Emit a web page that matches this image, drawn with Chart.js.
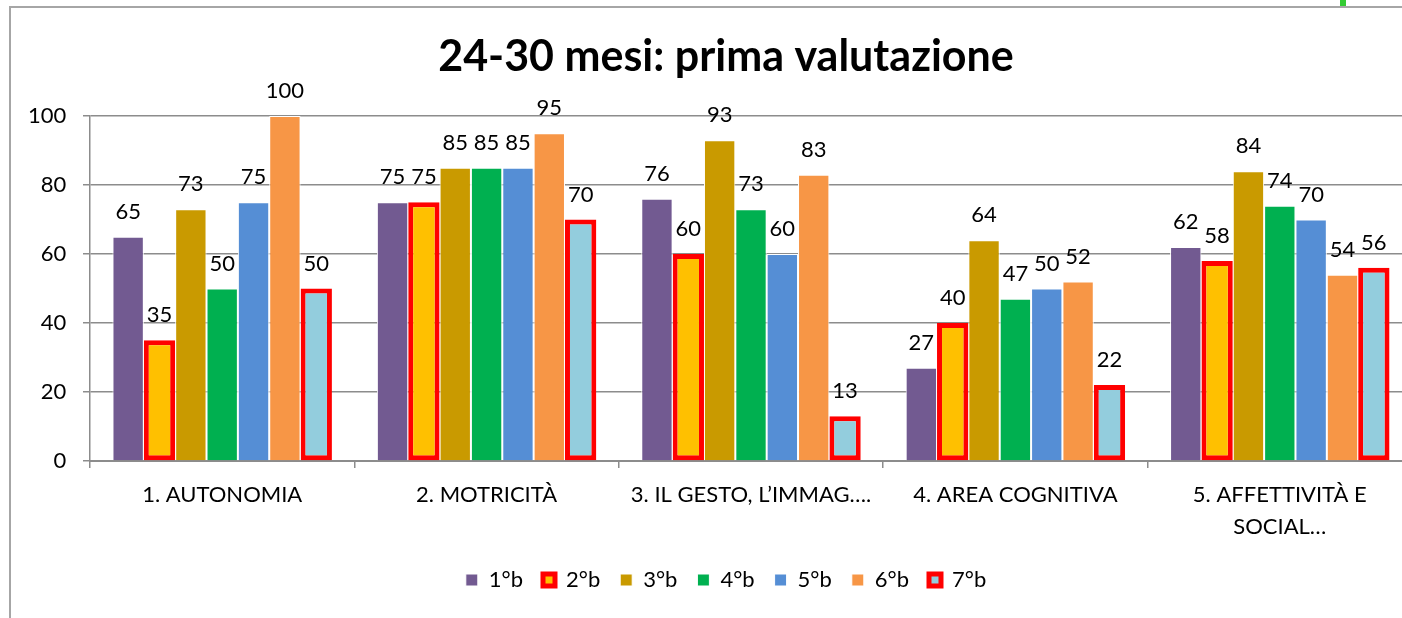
<!DOCTYPE html>
<html>
<head>
<meta charset="utf-8">
<script src="https://cdn.jsdelivr.net/npm/chart.js@4.4.0/dist/chart.umd.min.js"></script>
<style>
  html, body { margin: 0; padding: 0; background: #fff; }
  #wrap { position: relative; width: 1402px; height: 618px; overflow: hidden; }
  #cornice { position: absolute; left: 9px; top: 6px; width: 1500px; height: 700px;
             border-left: 2px solid #a6a6a6; border-top: 2px solid #a6a6a6; }
  #verde { position: absolute; left: 1340px; top: 0; width: 6px; height: 6px; background: #33cc33; }
  #box { position: absolute; left: 0; top: 0; width: 1412px; height: 618px; }
</style>
</head>
<body>
<div id="wrap">
  <div id="cornice"></div>
  <div id="verde"></div>
  <div id="box"><canvas id="grafico" width="1412" height="618"></canvas></div>
</div>
<script>
/* ===== DATI ===== */
const categorie = [
  '1. AUTONOMIA',
  '2. MOTRICITÀ',
  '3. IL GESTO, L’IMMAG….',
  '4. AREA COGNITIVA',
  ['5. AFFETTIVITÀ E', 'SOCIAL…']
];
const classi = ['1°b', '2°b', '3°b', '4°b', '5°b', '6°b', '7°b'];

const valori_1b = [65, 75, 76, 27, 62];
const valori_2b = [35, 75, 60, 40, 58];
const valori_3b = [73, 85, 93, 64, 84];
const valori_4b = [50, 85, 73, 47, 74];
const valori_5b = [75, 85, 60, 50, 70];
const valori_6b = [100, 95, 83, 52, 54];
const valori_7b = [50, 70, 13, 22, 56];

const tick_y = [0, 20, 40, 60, 80, 100];

/* ===== STILI ===== */
const colori = ['#725a91', '#ffc000', '#c99a00', '#00b050', '#558ed5', '#f79646', '#93cddd'];
const evidenziate = [false, true, false, false, false, false, true]; // bordo rosso
const FONT = 'Lato, "Open Sans", sans-serif';

const tutti_valori = [valori_1b, valori_2b, valori_3b, valori_4b, valori_5b, valori_6b, valori_7b];

const datasets = classi.map((nome, i) => ({
  label: nome,
  data: tutti_valori[i],
  backgroundColor: colori[i],
  borderColor: evidenziate[i] ? '#ff0000' : '#ffffff',
  borderWidth: evidenziate[i] ? 5 : 1,
  borderSkipped: evidenziate[i] ? false : 'start',
  categoryPercentage: 0.83,
  barPercentage: 1.0
}));

// etichette sopra le barre
const etichette_plugin = {
  id: 'etichette',
  afterDatasetsDraw(chart) {
    const ctx = chart.ctx;
    ctx.save();
    ctx.font = '22px ' + FONT;
    ctx.fillStyle = '#000';
    ctx.textAlign = 'center';
    ctx.textBaseline = 'alphabetic';
    chart.data.datasets.forEach((ds, i) => {
      const meta = chart.getDatasetMeta(i);
      meta.data.forEach((bar, j) => {
        ctx.fillText(String(ds.data[j]), bar.x, bar.y - 18);
      });
    });
    ctx.restore();
  }
};

const grafico = new Chart(document.getElementById('grafico'), {
  type: 'bar',
  data: { labels: categorie, datasets: datasets },
  plugins: [etichette_plugin],
  options: {
    responsive: false,
    animation: false,
    layout: { padding: { left: 40, right: 0, top: 0, bottom: 17 } },
    plugins: {
      tooltip: { enabled: false },
      title: {
        display: true,
        text: '24-30 mesi: prima valutazione',
        color: '#000',
        font: { family: FONT, size: 43, weight: 'bold', lineHeight: 1.2 },
        padding: { top: 31, bottom: 33.4 }
      },
      legend: {
        position: 'bottom',
        labels: {
          color: '#000',
          font: { family: FONT, size: 22 },
          boxWidth: 12,
          boxHeight: 12,
          padding: 20
        }
      }
    },
    scales: {
      x: {
        grid: { drawOnChartArea: false, drawTicks: true, tickLength: 7, color: '#8c8c8c', lineWidth: 1.5 },
        border: { color: '#8c8c8c', width: 2 },
        ticks: { color: '#000', font: { family: FONT, size: 22, lineHeight: 1.45 }, padding: 11, maxRotation: 0, autoSkip: false },
        afterFit: s => { s.height = 88; }
      },
      y: {
        min: 0,
        max: 100,
        afterBuildTicks: s => { s.ticks = tick_y.map(v => ({ value: v })); },
        grid: { color: '#8c8c8c', lineWidth: 1.5, tickLength: 7 },
        border: { color: '#8c8c8c', width: 1.5 },
        // mirror + far: etichette allineate a destra a x=65, senza ritaglio
        ticks: { color: '#000', font: { family: FONT, size: 22 }, mirror: true, crossAlign: 'far', padding: -62 },
        afterFit: s => { s.width = 50; }
      }
    }
  }
});
</script>
</body>
</html>
